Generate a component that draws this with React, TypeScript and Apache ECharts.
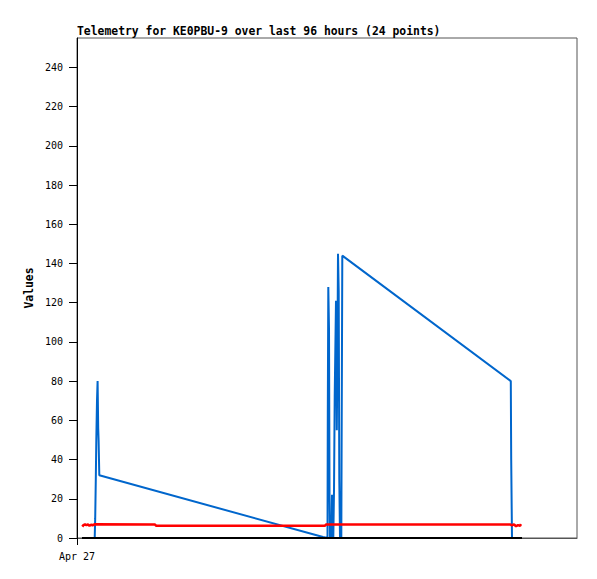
import React, { useEffect, useRef } from "react";
import * as echarts from "echarts";

// x in axis units (0..100 spans the plot width), y in values
const blueX = [3.54, 3.64, 3.76, 3.86, 4.0, 4.12, 4.24, 4.32, 4.46, 49.2, 50.1, 50.16, 50.26, 50.4, 50.5, 50.6, 50.9, 51.0, 51.26, 51.4, 51.54, 51.8, 51.96, 52.1, 52.2, 52.34, 52.46, 52.6, 52.86, 52.96, 53.06, 86.76, 86.84, 87.0];
const blueY = [0, 10, 30, 50, 70, 80, 56, 50, 32, 0.5, 0, 64, 128, 107, 23, 0, 0, 22, 0, 24, 72, 121, 55, 100, 145, 126, 30, 0, 0, 72, 144, 80, 40, 0];

const redX = [1.06, 1.3, 1.6, 1.9, 2.2, 2.5, 2.8, 3.1, 3.6, 15.6, 15.8, 49.6, 49.8, 86.6, 87.0, 87.4, 87.8, 88.2, 88.6, 88.8];
const redY = [5.8, 6.6, 7.0, 6.5, 6.9, 6.2, 6.8, 6.5, 7.0, 6.9, 6.3, 6.2, 6.9, 6.9, 6.4, 7.0, 6.0, 6.6, 6.2, 7.1];

const blackX = [1.0, 89.0];
const blackY = [0, 0];

const yTicks = [0, 20, 40, 60, 80, 100, 120, 140, 160, 180, 200, 220, 240];
const xLabel = "Apr 27";
const titleText = "Telemetry for KE0PBU-9 over last 96 hours (24 points)";

const pair = (xs: number[], ys: number[]) => xs.map((x, i) => [x, ys[i]]);

export default function App() {
  const ref = useRef<HTMLDivElement>(null);
  useEffect(() => {
    if (!ref.current) return;
    const chart = echarts.init(ref.current, null, { renderer: "svg" });
    const mono = "DejaVu Sans Mono";
    chart.setOption({
      animation: false,
      backgroundColor: "#ffffff",
      title: {
        text: titleText,
        left: 77,
        top: 25,
        padding: 0,
        textStyle: { fontFamily: mono, fontSize: 11.4, fontWeight: "bold", color: "#000" },
      },
      grid: {
        left: 77,
        top: 38,
        right: 20,
        bottom: 41,
        show: true,
        borderColor: "#555",
        borderWidth: 1,
        backgroundColor: "transparent",
      },
      xAxis: {
        type: "value",
        min: 0,
        max: 100,
        splitLine: { show: false },
        axisLine: { show: true, onZero: false, lineStyle: { color: "#555", width: 1 } },
        axisTick: { show: true, customValues: [0], length: 7, lineStyle: { color: "#000" } },
        axisLabel: {
          customValues: [0],
          formatter: () => xLabel,
          margin: 13,
          fontFamily: mono,
          fontSize: 10,
          color: "#000",
        },
      },
      yAxis: {
        type: "value",
        min: 0,
        max: 255,
        name: "Values",
        nameLocation: "middle",
        nameGap: 39,
        nameRotate: 90,
        nameTextStyle: { fontFamily: mono, fontSize: 11.4, fontWeight: "bold", color: "#000" },
        splitLine: { show: false },
        axisLine: { show: true, lineStyle: { color: "#000", width: 1 } },
        axisTick: { show: true, customValues: yTicks, length: 8, lineStyle: { color: "#000" } },
        axisLabel: {
          customValues: yTicks,
          margin: 14,
          fontFamily: mono,
          fontSize: 10,
          color: "#000",
        },
      },
      series: [
        {
          type: "line",
          data: pair(blueX, blueY),
          showSymbol: false,
          lineStyle: { color: "#0066cc", width: 2 },
          itemStyle: { color: "#0066cc" },
        },
        {
          type: "line",
          data: pair(redX, redY),
          showSymbol: false,
          lineStyle: { color: "#ff0000", width: 2.5 },
          itemStyle: { color: "#ff0000" },
        },
        {
          type: "line",
          data: pair(blackX, blackY),
          showSymbol: false,
          lineStyle: { color: "#000000", width: 2 },
          itemStyle: { color: "#000000" },
        },
      ],
    });
    return () => chart.dispose();
  }, []);
  return (
    <div
      ref={ref}
      style={{ position: "fixed", left: 0, top: 0, width: 597, height: 579 }}
    />
  );
}
